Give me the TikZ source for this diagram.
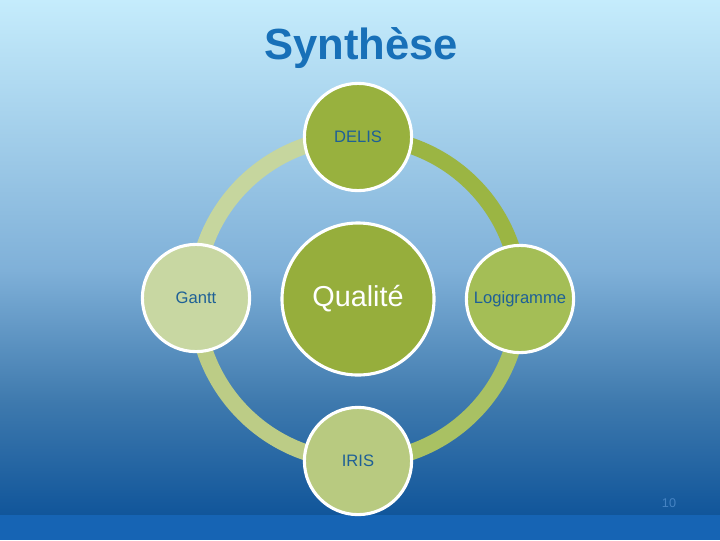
\documentclass[tikz,border=0pt]{standalone}
\usepackage{fontspec}
\setmainfont{Liberation Sans}
\usetikzlibrary{backgrounds}
\definecolor{skytop}{RGB}{197, 236, 252}
\definecolor{skymid}{RGB}{127, 176, 216}
\definecolor{skylow}{RGB}{63, 122, 174}
\definecolor{skydeep}{RGB}{16, 85, 154}
\definecolor{skyband}{RGB}{22, 100, 180}
\definecolor{titleblue}{RGB}{24, 112, 184}
\definecolor{labelblue}{RGB}{30, 96, 150}
\definecolor{greencore}{RGB}{150, 174, 60}
\definecolor{greendelis}{RGB}{152, 177, 62}
\definecolor{greenlogi}{RGB}{164, 190, 86}
\definecolor{greeniris}{RGB}{184, 202, 128}
\definecolor{greengantt}{RGB}{200, 215, 162}
\definecolor{ringone}{RGB}{198, 214, 158}
\definecolor{ringtwo}{RGB}{155, 181, 67}
\definecolor{ringthree}{RGB}{169, 193, 99}
\definecolor{ringfour}{RGB}{188, 204, 134}

\begin{document}
\begin{tikzpicture}[
    x=0.025cm, y=-0.025cm,
    bubble/.style={circle, draw=white, line width=2.2pt, minimum size=2.68cm, inner sep=0pt, font=\fontsize{11.8}{13}\selectfont, text=labelblue},
    core/.style={circle, draw=white, line width=2.2pt, minimum size=3.8cm, inner sep=0pt, fill=greencore, font=\fontsize{20.5}{24}\selectfont, text=white},
    ring/.style={line width=11.5pt}
]
    % Background
    \useasboundingbox (0,0) rectangle (720,540);

    % Title and page number
    \node[font=\bfseries\fontsize{31}{36}\selectfont, text=titleblue] (title) at (361,48) {Synthèse};
    \node[font=\fontsize{9}{10}\selectfont, text=skyband!80!white] (page) at (669,503) {10};

    % Centre
    \node[core] (quality) at (358,299) {Qualité};

    % Satellites
    \node[bubble, fill=greendelis] (delis) at (358,137) {DELIS};
    \node[bubble, fill=greenlogi] (logi) at (520,299) {Logigramme};
    \node[bubble, fill=greeniris] (iris) at (358,461) {IRIS};
    \node[bubble, fill=greengantt] (gantt) at (196,298) {Gantt};

    % Ring
    \begin{scope}[on background layer]
        \shade[top color=skytop, bottom color=skymid] (0,0) rectangle (720,271);
        \shade[top color=skymid, bottom color=skylow] (0,270) rectangle (720,401);
        \shade[top color=skylow, bottom color=skydeep] (0,400) rectangle (720,516);
        \fill[skyband] (0,515) rectangle (720,540);
        \draw[ring, ringone] (gantt.center) to[out=90, in=180] (delis.center);
        \draw[ring, ringtwo] (delis.center) to[out=0, in=90] (logi.center);
        \draw[ring, ringthree] (logi.center) to[out=-90, in=0] (iris.center);
        \draw[ring, ringfour] (iris.center) to[out=180, in=-90] (gantt.center);
    \end{scope}
\end{tikzpicture}
\end{document}
